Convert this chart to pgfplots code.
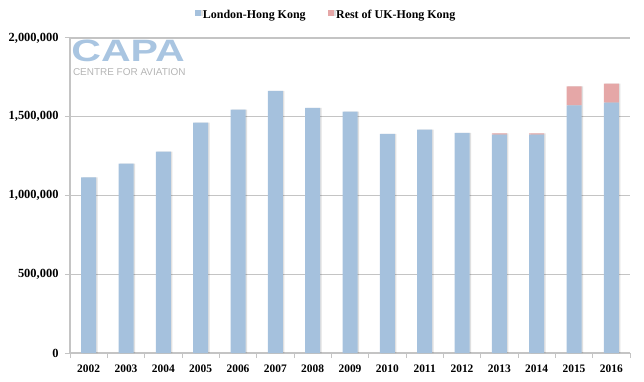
\documentclass[border=0pt]{standalone}
\usepackage{pgfplots}
\pgfplotsset{compat=1.18}
\usepackage{fontspec}
\setmainfont{Liberation Serif}
\newfontfamily\logofont{Liberation Sans}
\definecolor{barblue}{HTML}{A5C1DD}
\definecolor{barpink}{HTML}{E5A7A7}
\definecolor{gridgray}{HTML}{C4C4C4}
\definecolor{logoblue}{HTML}{A9C5E1}
\definecolor{logogray}{HTML}{B5B5B5}
\begin{document}
\begin{tikzpicture}
\path[use as bounding box] (-70bp,-29bp) rectangle (574bp,353bp);
\begin{axis}[
  scale only axis,
  width=560bp, height=315bp,
  at={(0,0)}, anchor=south west,
  ybar stacked,
  bar width=15bp,
  xmin=-0.5, xmax=14.5,
  ymin=0, ymax=2000000,
  xtick={0,...,14},
  xticklabels={2002,2003,2004,2005,2006,2007,2008,2009,2010,2011,2012,2013,2014,2015,2016},
  minor xtick={-0.5,0.5,...,14.5},
  ytick={0,500000,1000000,1500000,2000000},
  scaled y ticks=false,
  /pgf/number format/.cd, fixed, 1000 sep={,}, assume math mode=true,
  /pgfplots/.cd,
  ymajorgrids,
  major grid style={gridgray, line width=1.5bp},
  axis line style={gridgray, line width=1.2bp},
  axis x line*=bottom,
  axis y line*=left,
  tick align=outside,
  major x tick style={draw=none},
  minor x tick style={gridgray, line width=1bp},
  minor tick length=5bp,
  major y tick style={gridgray, line width=1bp},
  major tick length=5bp,
  yticklabel style={font=\fontsize{12.5}{14}\selectfont\bfseries, xshift=-3bp},
  xticklabel style={font=\fontsize{11.5}{13}\selectfont\bfseries, yshift=-3bp},
  legend style={at={(0.457,1.073)}, anchor=center, draw=none, fill=none,
    font=\fontsize{12}{14}\selectfont\bfseries, legend columns=2,
    /tikz/every even column/.append style={column sep=20bp}},
  legend image code/.code={\fill[#1] (0bp,-1bp) rectangle (6.5bp,5.5bp);},
]
\addplot[fill=barblue, draw=none,
  preaction={fill=black, opacity=0.12, transform canvas={xshift=1.5bp}}] coordinates {
(0,1115000) (1,1202000) (2,1278000) (3,1462000) (4,1545000) (5,1665000)
(6,1557000) (7,1532000) (8,1392000) (9,1418000) (10,1398000) (11,1386000)
(12,1386000) (13,1572000) (14,1589000)};
\addlegendentry{London-Hong Kong}
\addplot[fill=barpink, draw=none,
  preaction={fill=black, opacity=0.12, transform canvas={xshift=1.5bp}}] coordinates {
(0,0) (1,0) (2,0) (3,0) (4,0) (5,0) (6,0) (7,0) (8,0) (9,0) (10,0)
(11,9000) (12,9000) (13,121000) (14,121000)};
\addlegendentry{Rest of UK-Hong Kong}
\node[anchor=south west, inner sep=0pt, text=logoblue, font=\logofont\bfseries\fontsize{31}{31}\selectfont, xscale=1.33, transform shape]
  at (rel axis cs:0.002,0.924) {CAPA};
\node[anchor=north west, inner sep=0pt, text=logogray, font=\logofont\fontsize{10}{11}\selectfont]
  at (rel axis cs:0.005,0.903) {CENTRE FOR AVIATION};
\end{axis}
\end{tikzpicture}
\end{document}
